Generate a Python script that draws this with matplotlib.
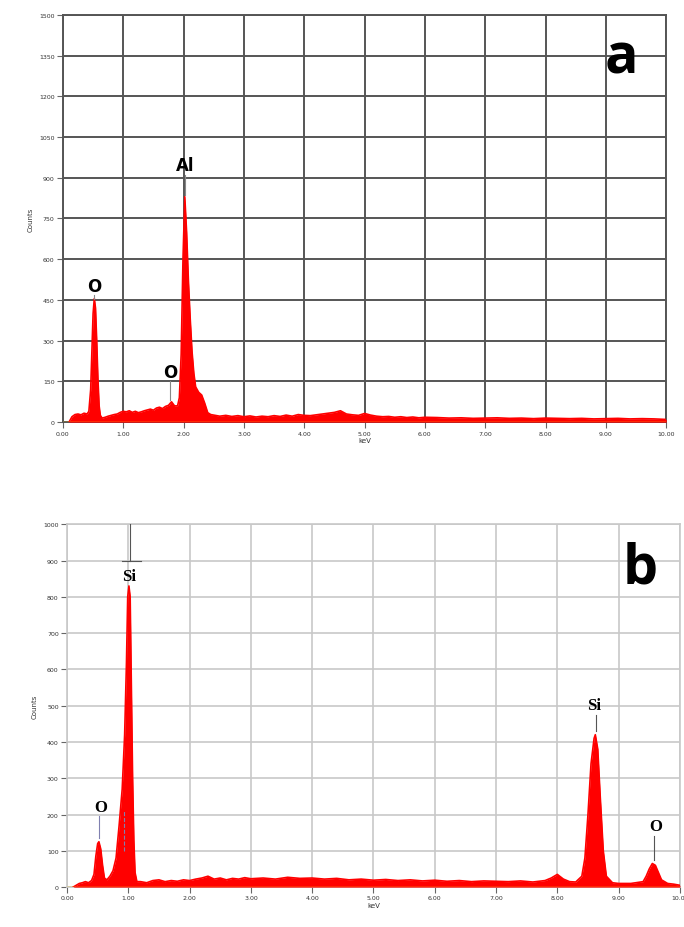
import matplotlib
matplotlib.use("Agg")
import matplotlib.pyplot as plt

# ---- panel a : energies (keV) and counts ----
energy_a = [
    0.10, 0.15, 0.20, 0.25, 0.30, 0.35, 0.40, 0.43, 0.46, 0.48, 0.50, 0.52,
    0.54, 0.56, 0.58, 0.60, 0.62, 0.65, 0.70, 0.75, 0.80, 0.85, 0.90, 0.95,
    1.00, 1.05, 1.10, 1.15, 1.20, 1.25, 1.30, 1.35, 1.40, 1.45, 1.50, 1.55,
    1.60, 1.65, 1.70, 1.75, 1.80, 1.85, 1.90, 1.93, 1.96, 1.99, 2.02, 2.05,
    2.08, 2.11, 2.14, 2.17, 2.20, 2.25, 2.30, 2.35, 2.40, 2.45, 2.50, 2.60,
    2.70, 2.80, 2.90, 3.00, 3.10, 3.20, 3.30, 3.40, 3.50, 3.60, 3.70, 3.80,
    3.90, 4.00, 4.10, 4.20, 4.30, 4.40, 4.50, 4.60, 4.70, 4.80, 4.90, 5.00,
    5.10, 5.20, 5.30, 5.40, 5.50, 5.60, 5.70, 5.80, 5.90, 6.00, 6.20, 6.40,
    6.60, 6.80, 7.00, 7.20, 7.40, 7.60, 7.80, 8.00, 8.20, 8.40, 8.60, 8.80,
    9.00, 9.20, 9.40, 9.60, 9.80, 10.00,
]
counts_a = [
    0, 20, 28, 30, 27, 33, 30, 40, 120, 260, 400, 455,
    420, 300, 160, 60, 25, 15, 18, 22, 25, 28, 30, 36,
    40, 38, 42, 36, 40, 35, 38, 42, 45, 48, 44, 52,
    55, 50, 58, 62, 75, 60, 60, 90, 250, 600, 830, 700,
    520, 380, 260, 180, 130, 110, 100, 70, 35, 28, 26, 22,
    25, 21, 24, 20, 23, 19, 22, 20, 24, 21, 26, 22,
    28, 25, 24, 27, 30, 33, 36, 42, 30, 27, 25, 32,
    26, 22, 20, 21, 18, 20, 17, 19, 16, 18, 17, 15,
    16, 14, 15, 16, 14, 15, 13, 15, 14, 13, 14, 12,
    13, 14, 12, 13, 12, 10,
]

# ---- panel b ----
energy_b = [
    0.10, 0.15, 0.20, 0.25, 0.30, 0.35, 0.40, 0.44, 0.47, 0.50, 0.52, 0.55,
    0.58, 0.61, 0.65, 0.70, 0.75, 0.80, 0.85, 0.90, 0.94, 0.97, 0.99, 1.01,
    1.03, 1.05, 1.07, 1.09, 1.11, 1.14, 1.20, 1.30, 1.40, 1.50, 1.60,
    1.70, 1.80, 1.90, 2.00, 2.10, 2.20, 2.30, 2.40, 2.50, 2.60, 2.70, 2.80,
    2.90, 3.00, 3.20, 3.40, 3.60, 3.80, 4.00, 4.20, 4.40, 4.60, 4.80, 5.00,
    5.20, 5.40, 5.60, 5.80, 6.00, 6.20, 6.40, 6.60, 6.80, 7.00, 7.20, 7.40,
    7.60, 7.80, 7.90, 8.00, 8.10, 8.20, 8.30, 8.40, 8.45, 8.50, 8.55, 8.60,
    8.62, 8.66, 8.70, 8.75, 8.80, 8.90, 9.00, 9.20, 9.40, 9.45, 9.50, 9.55,
    9.60, 9.65, 9.70, 9.80, 9.90, 10.00,
]
counts_b = [
    0, 5, 10, 12, 15, 12, 18, 35, 85, 120, 125, 105,
    60, 25, 20, 30, 45, 80, 170, 270, 420, 620, 800, 830,
    800, 550, 300, 130, 40, 15, 15, 12, 18, 20, 15,
    18, 16, 20, 18, 22, 25, 30, 22, 25, 20, 24, 22,
    26, 23, 25, 22, 27, 24, 25, 22, 24, 20, 22, 19,
    21, 18, 20, 17, 19, 16, 18, 15, 17, 16, 15, 17,
    14, 18, 25, 35, 22, 15, 14, 30, 80, 200, 340, 410,
    420, 380, 250, 100, 30, 12, 10, 10, 15, 30, 50, 65,
    60, 40, 20, 10, 8, 5,
]

xticks = [0, 1, 2, 3, 4, 5, 6, 7, 8, 9, 10]
yticks_a = [0, 150, 300, 450, 600, 750, 900, 1050, 1200, 1350, 1500]
yticks_b = [0, 100, 200, 300, 400, 500, 600, 700, 800, 900, 1000]

RED = "#ff0000"

fig = plt.figure(figsize=(6.84, 9.28), dpi=100)
ax_a = fig.add_axes([0.092, 0.544, 0.882, 0.439])
ax_b = fig.add_axes([0.098, 0.043, 0.896, 0.391])


def draw_spectrum(ax, energy, counts, xticks, yticks, grid_color, grid_lw):
    ax.fill_between(energy, 0, counts, color=RED, lw=0, zorder=3)
    ax.plot(energy, counts, color=RED, lw=1.2, zorder=3)
    ax.axhline(0, color="#ffd21a", lw=1.0, zorder=4)
    ax.set_xlim(0, 10)
    ax.set_ylim(0, yticks[-1])
    ax.set_xticks(xticks)
    ax.set_xticklabels([f"{t:.2f}" for t in xticks])
    ax.set_yticks(yticks)
    ax.set_yticklabels([str(t) for t in yticks])
    ax.tick_params(labelsize=4.5, length=4, width=0.8, color="#666666",
                   labelcolor="#333333", pad=2)
    ax.grid(True, color=grid_color, lw=grid_lw, zorder=1)
    for sp in ax.spines.values():
        sp.set_color(grid_color)
        sp.set_linewidth(grid_lw)
    ax.set_xlabel("keV", fontsize=5, labelpad=1, color="#333333")
    ax.set_ylabel("Counts", fontsize=5, labelpad=4, color="#333333")


draw_spectrum(ax_a, energy_a, counts_a, xticks, yticks_a, "#555555", 1.4)
draw_spectrum(ax_b, energy_b, counts_b, xticks, yticks_b, "#c8c8c8", 1.2)

# peak labels, panel a
lab_a = dict(fontsize=12, fontweight="bold", family="DejaVu Sans",
             ha="center", va="bottom", zorder=6)
ax_a.text(0.52, 470, "O", **lab_a)
ax_a.plot([0.52, 0.52], [455, 470], color="#888888", lw=0.8, zorder=5)
ax_a.text(1.78, 150, "O", **lab_a)
ax_a.plot([1.78, 1.78], [80, 150], color="#888888", lw=0.8, zorder=5)
ax_a.text(2.02, 915, "Al", **lab_a)
ax_a.plot([2.02, 2.02], [835, 910], color="#888888", lw=0.8, zorder=5)
ax_a.text(9.25, 1340, "a", fontsize=40, fontweight="bold", family="Open Sans",
          ha="center", va="center", zorder=6)

# peak labels, panel b
lab_b = dict(fontsize=12, fontweight="bold", family="Liberation Serif",
             ha="center", va="bottom", zorder=6)
ax_b.plot([1.02, 1.02], [1000, 900], color="#555555", lw=0.8, zorder=5)
ax_b.plot([0.9, 1.2], [900, 900], color="#555555", lw=0.8, zorder=5)
ax_b.text(1.02, 835, "Si", **lab_b)
ax_b.text(0.55, 200, "O", **lab_b)
ax_b.plot([0.52, 0.52], [135, 195], color="#8080b0", lw=0.8, zorder=5)
ax_b.plot([0.93, 0.93], [100, 210], color="#8080b0", lw=0.8, ls="--", zorder=5)
ax_b.text(8.6, 480, "Si", **lab_b)
ax_b.plot([8.63, 8.63], [430, 475], color="#555555", lw=0.8, zorder=5)
ax_b.text(9.6, 145, "O", **lab_b)
ax_b.plot([9.57, 9.57], [75, 140], color="#555555", lw=0.8, zorder=5)
ax_b.text(9.35, 880, "b", fontsize=40, fontweight="bold", family="Open Sans",
          ha="center", va="center", zorder=6)

fig.savefig("out.png", dpi=100)
